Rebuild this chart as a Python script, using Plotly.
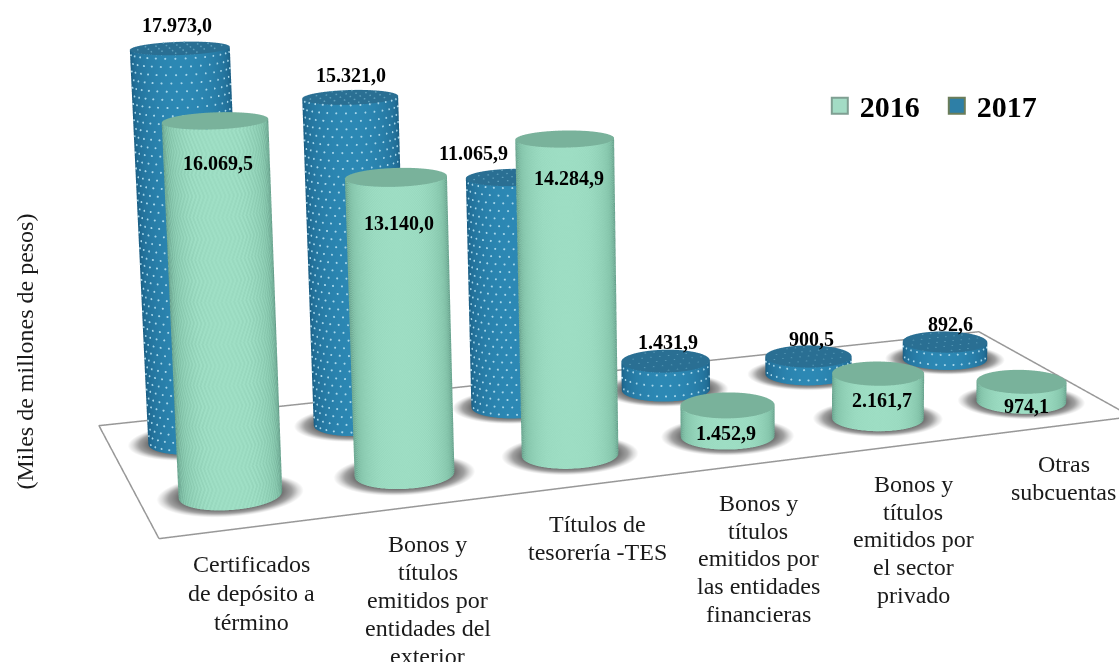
import numpy as np
import plotly.graph_objects as go

categories = ["Certificados<br>de depósito a<br>término",
              "Bonos y<br>títulos<br>emitidos por<br>entidades del<br>exterior",
              "Títulos de<br>tesorería -TES",
              "Bonos y<br>títulos<br>emitidos por<br>las entidades<br>financieras",
              "Bonos y<br>títulos<br>emitidos por<br>el sector<br>privado",
              "Otras<br>subcuentas"]
values_2016 = [16069.5, 13140.0, 14284.9, 1452.9, 2161.7, 974.1]
values_2017 = [17973.0, 15321.0, 11065.9, 1431.9, 900.5, 892.6]
labels_2016 = ["16.069,5", "13.140,0", "14.284,9", "1.452,9", "2.161,7", "974,1"]
labels_2017 = ["17.973,0", "15.321,0", "11.065,9", "1.431,9", "900,5", "892,6"]
y_title = "(Miles de millones de pesos)"
FONT = "Liberation Serif"

# pixel nudges of the value labels relative to the cylinder tops
shift_2016 = [(3, -42), (3, -46), (4.5, -39), (-2, -28), (4, -27), (5, -24)]
shift_2017 = [(-3, 23), (0.5, 22), (-38.5, 24), (2, 19), (3, 17), (5, 18)]
# category-label placement in window pixels: centre x, first-line y, line gap
cat_x = [251, 427, 597, 757.5, 912.5, 1063]
cat_y0 = [563, 543, 523, 502, 483, 463]
cat_gap = [29, 28, 28, 27.8, 27.8, 28.5]

W, H = 1119, 662
XR, YR, ZR = (-1.0, 6.0), (-1.0, 2.0), (0.0, 20000.0)
EYE = np.array([-1.2157, -3.7113, 0.8028])
CENTER = np.array([0.2003, -0.301, 0.1418])
ASPECT = np.array([1.7552, 0.8523, 0.6685])
RADIUS = 0.07166
K, PX, PY = 3.2407, 812.2, 141.8
FLOOR = [(-0.491, -0.549), (5.478, -0.509), (5.541, 1.512), (-0.505, 1.495), (-0.491, -0.549)]

CW, CH = int(round(K*W)), int(round(K*H))
OX, OY = CW/2-PX, CH/2-PY
rx = RADIUS/ASPECT[0]*(XR[1]-XR[0])
ry = RADIUS/ASPECT[1]*(YR[1]-YR[0])
PX_PER_UNIT = 0.0234


def paper(xp, yp):
    return (xp+OX)/CW, 1-(yp+OY)/CH


def view_phi(i, yy):
    cx = ASPECT[0]*((i-XR[0])/(XR[1]-XR[0])-.5)
    cy = ASPECT[1]*((yy-YR[0])/(YR[1]-YR[0])-.5)
    return np.arctan2(EYE[1]-cy, EYE[0]-cx)


BLUE = [[0, "#17567A"], [0.4, "#226F98"], [1, "#2C88B4"]]
GREEN = [[0, "#5F9583"], [0.45, "#84C4AA"], [1, "#A0E0C6"]]
SHADOW = [[0, "#727272"], [0.45, "#A0A0A0"], [0.75, "#DCDCDC"], [1, "#FFFFFF"]]

fig = go.Figure()

# floor outline
fig.add_trace(go.Scatter3d(x=[a for a, b in FLOOR], y=[b for a, b in FLOOR], z=[0]*5, mode="lines",
                           line=dict(color="#989898", width=3), hoverinfo="skip", showlegend=False))


def add_cylinder(i, yy, v, scale, cap, textured):
    phi = view_phi(i, yy)
    # shadow ring
    rr = np.linspace(0.9, 1.42, 14)
    tt = np.linspace(0, 2*np.pi, 91)
    RR, TT = np.meshgrid(rr, tt, indexing="ij")
    fig.add_trace(go.Surface(x=i+rx*RR*np.cos(TT), y=yy+ry*RR*np.sin(TT), z=np.zeros_like(RR),
                             surfacecolor=(RR-1)/0.42, cmin=0, cmax=1, colorscale=SHADOW, showscale=False,
                             hoverinfo="skip", lighting=dict(ambient=1, diffuse=0, specular=0, fresnel=0)))
    # side
    n = 185 if textured else 73
    m = int(v*PX_PER_UNIT/1.3)+2 if textured else 2
    th = phi+np.radians(np.linspace(-105, 105, n))
    zz = np.linspace(0, v, m)
    TH, ZZ = np.meshgrid(th, zz)
    t = np.clip(np.cos(TH-phi), 0, 1)
    if textured:
        a, b = np.meshgrid(np.arange(n), np.arange(m))
        if i == 0:
            tri = np.abs(((b/16) % 2)-1)*8
            pat = ((a+tri) % 4 < 2).astype(float)
        else:
            pat = ((a+b) % 2).astype(float)
        t = np.clip(t+0.22*(pat-0.5), 0, 1)
    light = dict(ambient=1, diffuse=0, specular=0, fresnel=0)
    fig.add_trace(go.Surface(x=i+rx*np.cos(TH), y=yy+ry*np.sin(TH), z=ZZ, surfacecolor=t, cmin=0, cmax=1,
                             colorscale=scale, showscale=False, hoverinfo="skip", lighting=light))
    # cap
    RC, TC = np.meshgrid(np.linspace(0, 1, 8), np.linspace(0, 2*np.pi, 73), indexing="ij")
    fig.add_trace(go.Surface(x=i+rx*RC*np.cos(TC), y=yy+ry*RC*np.sin(TC), z=np.full_like(RC, v),
                             surfacecolor=np.zeros_like(RC), cmin=0, cmax=1, colorscale=[[0, cap], [1, cap]],
                             showscale=False, hoverinfo="skip", lighting=light))


for i, v in enumerate(values_2017):
    add_cylinder(i, 1, v, BLUE, "#2A6F93", False)
for i, v in enumerate(values_2016):
    add_cylinder(i, 0, v, GREEN, "#79B29B", True)

# white dots of the blue texture
dx, dy, dz = [], [], []
cx, cy, cz = [], [], []
for i, v in enumerate(values_2017):
    phi = view_phi(i, 1)
    step = 360 if v > 5000 else 520
    z, k = step/2, 0
    while z < v:
        for j in range(-8, 9):
            a = (j+0.5*(k % 2))*0.2
            if abs(a) < 1.4:
                dx.append(i+1.01*rx*np.cos(phi+a)); dy.append(1+1.01*ry*np.sin(phi+a)); dz.append(z)
        z += step
        k += 1
    for p in np.linspace(-0.85, 0.85, 9):
        for q in np.linspace(-0.8, 0.8, 5):
            if p*p+q*q < 0.8:
                cx.append(i+rx*p); cy.append(1+ry*q); cz.append(v*1.002)
fig.add_trace(go.Scatter3d(x=dx, y=dy, z=dz, mode="markers", marker=dict(size=1.2, color="#A6D6EA"),
                           hoverinfo="skip", showlegend=False))
fig.add_trace(go.Scatter3d(x=cx, y=cy, z=cz, mode="markers", marker=dict(size=1, color="#5E9FBC"),
                           hoverinfo="skip", showlegend=False))

# legend entries
fig.add_trace(go.Scatter3d(x=[None], y=[None], z=[None], mode="markers", name="<b>2016</b>",
                           marker=dict(symbol="square", size=16, color="#A3DCC5", line=dict(color="#7F9F92", width=2))))
fig.add_trace(go.Scatter3d(x=[None], y=[None], z=[None], mode="markers", name="<b>2017</b>",
                           marker=dict(symbol="square", size=16, color="#2E7FA6", line=dict(color="#6B7D5A", width=2))))

# value labels
scene_ann = []
for yy, vals, labs, shf in [(1, values_2017, labels_2017, shift_2017), (0, values_2016, labels_2016, shift_2016)]:
    for i, (v, lab, (sx, sy)) in enumerate(zip(vals, labs, shf)):
        scene_ann.append(dict(x=i, y=yy, z=v, text="<b>%s</b>" % lab, showarrow=False, xshift=sx, yshift=sy,
                              xanchor="center", yanchor="middle", font=dict(family=FONT, size=20, color="#000000")))

fig.update_layout(
    width=CW, height=CH, margin=dict(l=0, r=0, t=0, b=0), paper_bgcolor="white",
    showlegend=True,
    legend=dict(orientation="h", x=paper(819, 0)[0], y=paper(0, 105)[1], xanchor="left", yanchor="middle",
                font=dict(family=FONT, size=30, color="#000000"), itemclick=False, itemdoubleclick=False,
                bgcolor="rgba(0,0,0,0)", entrywidth=72, entrywidthmode="pixels", itemsizing="trace"),
    scene=dict(domain=dict(x=[0, 1], y=[0, 1]),
               xaxis=dict(visible=False, range=XR), yaxis=dict(visible=False, range=YR), zaxis=dict(visible=False, range=ZR),
               aspectmode="manual", aspectratio=dict(x=ASPECT[0], y=ASPECT[1], z=ASPECT[2]),
               camera=dict(eye=dict(x=EYE[0], y=EYE[1], z=EYE[2]), center=dict(x=CENTER[0], y=CENTER[1], z=CENTER[2]),
                           up=dict(x=0, y=0, z=1), projection=dict(type="perspective")),
               annotations=scene_ann))

for text, xp, y0, gap in zip(categories, cat_x, cat_y0, cat_gap):
    for ln, line in enumerate(text.split("<br>")):
        ax, ay = paper(xp, y0+ln*gap)
        fig.add_annotation(text=line, x=ax, y=ay, xref="paper", yref="paper", xanchor="center", yanchor="middle",
                           showarrow=False, align="center", font=dict(family=FONT, size=24, color="#1A1A1A"))
ax, ay = paper(24, 351)
fig.add_annotation(text=y_title, x=ax, y=ay, xref="paper", yref="paper", xanchor="center", yanchor="middle",
                   showarrow=False, textangle=-90, font=dict(family=FONT, size=24, color="#1A1A1A"))

js = ("document.documentElement.style.overflow='hidden';document.body.style.overflow='hidden';"
      "document.body.style.margin='0';var g=document.getElementsByClassName('plotly-graph-div')[0];"
      "g.style.position='fixed';g.style.left='%dpx';g.style.top='%dpx';" % (-OX, -OY))
fig.write_html("out.html", post_script=js, config={"displayModeBar": False})
